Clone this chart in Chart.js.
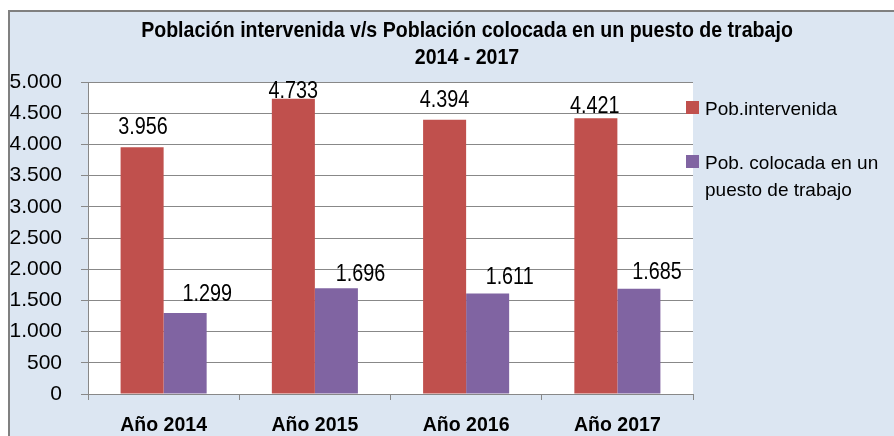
<!DOCTYPE html>
<html>
<head>
<meta charset="utf-8">
<script src="https://cdn.jsdelivr.net/npm/chart.js@4.4.1/dist/chart.umd.min.js"></script>
<style>
  html, body { margin: 0; padding: 0; background: #ffffff; overflow: hidden; width: 894px; height: 436px; }
  #frame { position: absolute; left: 8px; top: 10px; width: 1000px; height: 500px;
           border-left: 2px solid #808080; border-top: 2px solid #808080; background: #DCE6F2; }
  #wrap { position: absolute; left: 0; top: 0; width: 884px; height: 424px; }
  #title { position: absolute; left: 0; top: 4px; width: 914px; text-align: center;
           font-family: "Liberation Sans", Arial, sans-serif;
           font-weight: bold; font-size: 22px; line-height: 27px; color: #000;
           transform: scaleX(0.89); transform-origin: 457px 0; }
  #legend { position: absolute; left: 676px; top: 0; width: 200px;
            font-family: "Liberation Sans", Arial, sans-serif; font-size: 19px; line-height: 27px; color: #000; }
  .item { position: absolute; left: 0; width: 200px; }
  .sw { position: absolute; left: 0; width: 13px; height: 13px; }
  .tx { position: absolute; left: 19px; width: 184px; }
</style>
</head>
<body>
<div id="frame">
  <div id="wrap"><canvas id="c"></canvas></div>
  <div id="title">Población intervenida v/s Población colocada en un puesto de trabajo<br>2014 - 2017</div>
  <div id="legend"></div>
</div>
<script>
const categories = ['Año 2014', 'Año 2015', 'Año 2016', 'Año 2017'];
const seriesNames = ['Pob.intervenida', 'Pob. colocada en un puesto de trabajo'];
const intervenida = [3956, 4733, 4394, 4421];
const colocada = [1299, 1696, 1611, 1685];
const yMin = 0, yMax = 5000, yStep = 500;

const fmt = v => String(v).replace(/\B(?=(\d{3})+(?!\d))/g, '.');

const plotBg = {
  id: 'plotBg',
  beforeDraw(chart) {
    const {ctx, chartArea: a} = chart;
    ctx.save();
    ctx.fillStyle = '#ffffff';
    ctx.fillRect(a.left, a.top, a.right - a.left, a.bottom - a.top);
    ctx.restore();
  }
};

const valueLabels = {
  id: 'valueLabels',
  afterDatasetsDraw(chart, args, opts) {
    const ctx = chart.ctx;
    chart.data.datasets.forEach((ds, di) => {
      const meta = chart.getDatasetMeta(di);
      meta.data.forEach((bar, i) => {
        const dx = opts.dx[di][i], gap = opts.gap[di][i];
        const x = bar.x + dx, y = bar.y - gap;
        ctx.save();
        ctx.font = opts.font;
        ctx.fillStyle = '#000';
        ctx.textAlign = 'center';
        ctx.textBaseline = 'alphabetic';
        ctx.translate(x, y);
        ctx.scale(opts.squeeze, 1);
        ctx.fillText(fmt(ds.data[i]), 0, 0);
        ctx.restore();
      });
    });
  }
};

const chart = new Chart(document.getElementById('c'), {
  type: 'bar',
  data: {
    labels: categories,
    datasets: [
      { label: seriesNames[0], data: intervenida, backgroundColor: '#C0504D', borderWidth: 0,
        categoryPercentage: 0.569, barPercentage: 1.0 },
      { label: seriesNames[1], data: colocada, backgroundColor: '#8064A2', borderWidth: 0,
        categoryPercentage: 0.569, barPercentage: 1.0 }
    ]
  },
  options: {
    responsive: true,
    maintainAspectRatio: false,
    animation: false,
    layout: { padding: { left: 0, top: 70, right: 201, bottom: 0 } },
    plugins: {
      legend: { display: false },
      title: { display: false },
      tooltip: { enabled: false },
      valueLabels: {
        font: '23px "Liberation Sans", Arial, sans-serif',
        squeeze: 0.86,
        dx: [[1, 0, 0, -1], [22, 24, 22, 18]],
        gap: [[13, 1, 13, 5], [12, 7, 9, 10]]
      }
    },
    scales: {
      x: {
        offset: true,
        afterFit(s) { s.height = 42; },
        grid: { display: true, drawOnChartArea: false, drawTicks: true, tickLength: 6,
                offset: true, color: '#888888', lineWidth: 1 },
        border: { display: true, color: '#888888', width: 1 },
        ticks: { color: '#000', padding: 14,
                 font: { family: '"Liberation Sans", Arial, sans-serif', size: 19.5, weight: 'bold' } }
      },
      y: {
        min: yMin, max: yMax,
        afterFit(s) { s.width = 78; },
        grid: { color: '#888888', lineWidth: 1, tickLength: 7, drawTicks: true },
        border: { display: true, color: '#888888', width: 1 },
        ticks: { stepSize: yStep, color: '#000', padding: 19, callback: v => fmt(v),
                 font: { family: '"Liberation Sans", Arial, sans-serif', size: 21 } }
      }
    }
  },
  plugins: [plotBg, valueLabels]
});

// HTML legend built from the chart's datasets
const legend = document.getElementById('legend');
const legendTops = [83, 137];
chart.data.datasets.forEach((ds, i) => {
  const item = document.createElement('div');
  item.className = 'item';
  item.style.top = legendTops[i] + 'px';
  const sw = document.createElement('div');
  sw.className = 'sw';
  sw.style.background = ds.backgroundColor;
  sw.style.top = '6px';
  const tx = document.createElement('div');
  tx.className = 'tx';
  tx.textContent = ds.label;
  item.appendChild(sw);
  item.appendChild(tx);
  legend.appendChild(item);
});
</script>
</body>
</html>
